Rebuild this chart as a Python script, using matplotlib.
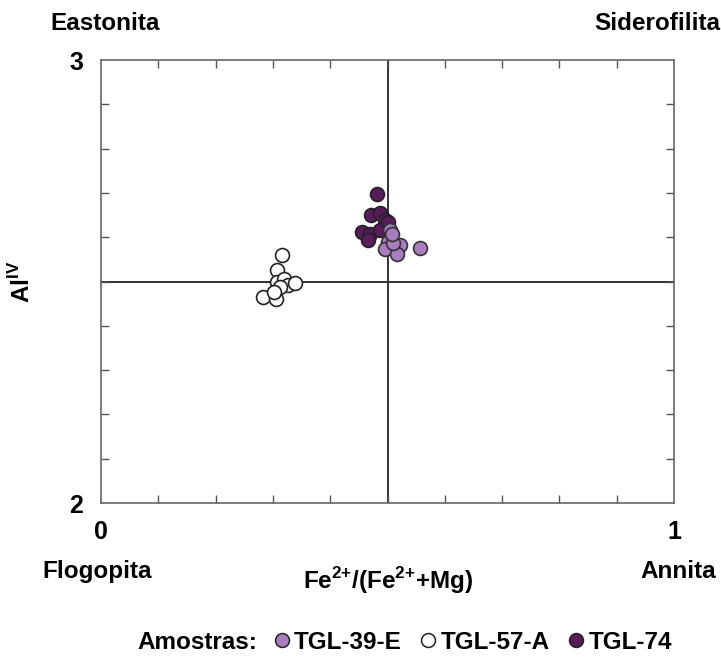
import matplotlib.pyplot as plt
from matplotlib.lines import Line2D

# Biotite classification (Fe/(Fe+Mg) vs Al IV)
plt.rcParams["font.family"] = ["Liberation Sans", "DejaVu Sans"]
plt.rcParams["font.weight"] = "bold"
plt.rcParams["mathtext.fontset"] = "custom"
plt.rcParams["mathtext.rm"] = "Liberation Sans:bold"
plt.rcParams["mathtext.bf"] = "Liberation Sans:bold"

# Sample data
x_39e = [0.504, 0.501, 0.521, 0.496, 0.516, 0.556, 0.510, 0.508]
y_39e = [2.616, 2.590, 2.582, 2.573, 2.562, 2.576, 2.587, 2.608]

x_57a = [0.316, 0.308, 0.307, 0.320, 0.326, 0.339, 0.312, 0.282, 0.305, 0.302]
y_57a = [2.560, 2.526, 2.500, 2.505, 2.492, 2.496, 2.488, 2.466, 2.460, 2.477]

x_74 = [0.481, 0.472, 0.487, 0.496, 0.455, 0.469, 0.466, 0.486, 0.501]
y_74 = [2.697, 2.650, 2.654, 2.640, 2.612, 2.607, 2.594, 2.616, 2.634]

labels = ["TGL-39-E", "TGL-57-A", "TGL-74"]
colors = ["#a97cc0", "#ffffff", "#5a1b5c"]

x_ticks = [0, 1]
y_ticks = [2, 3]

fig = plt.figure(figsize=(7.21, 6.61), dpi=100)
ax = fig.add_axes([0.140, 0.239, 0.795, 0.670])

# quadrant lines
ax.axvline(0.5, color="#333333", lw=1.4, zorder=1)
ax.axhline(2.5, color="#333333", lw=1.4, zorder=1)

ax.scatter(x_57a, y_57a, s=100, c=colors[1], edgecolors="#222222", linewidths=1.2, zorder=3)
ax.scatter(x_74, y_74, s=100, c=colors[2], edgecolors="#222222", linewidths=1.2, zorder=3)
ax.scatter(x_39e, y_39e, s=100, c=colors[0], edgecolors="#333333", linewidths=1.2, zorder=4)

ax.set_xlim(0, 1)
ax.set_ylim(2, 3)
ax.set_xticks(x_ticks)
ax.set_yticks(y_ticks)
ax.set_xticks([i / 10 for i in range(11)], minor=True)
ax.set_yticks([2 + i / 10 for i in range(11)], minor=True)
ax.tick_params(which="both", direction="in", top=True, right=True, color="#555555")
ax.tick_params(which="major", length=0, labelsize=18)
ax.tick_params(which="minor", length=6, width=1)
ax.tick_params(axis="x", pad=12)
ax.tick_params(axis="y", pad=13)
for s in ax.spines.values():
    s.set_color("#666666")
    s.set_linewidth(1.2)

# corner end-member names
fs = 17.5
fig.text(0.146, 0.964, "Eastonita", ha="center", va="center", fontsize=fs)
fig.text(0.999, 0.964, "Siderofilita", ha="right", va="center", fontsize=fs)
fig.text(0.135, 0.135, "Flogopita", ha="center", va="center", fontsize=fs)
fig.text(0.993, 0.135, "Annita", ha="right", va="center", fontsize=fs)

fig.text(0.538, 0.122, r"Fe$^{2{+}}$/(Fe$^{2{+}}$+Mg)", ha="center", va="center", fontsize=fs)
fig.text(0.030, 0.573, r"Al$^{\mathrm{IV}}$", ha="center", va="center", fontsize=fs, rotation=90)

# legend
fig.text(0.191, 0.028, "Amostras:", ha="left", va="center", fontsize=fs)
handles = [
    Line2D([], [], ls="none", marker="o", markersize=10, markerfacecolor=c,
           markeredgecolor="#222222", markeredgewidth=1.1)
    for c in colors
]
fig.legend(handles, labels, loc="center left", bbox_to_anchor=(0.362, 0.028), ncol=3,
           frameon=False, fontsize=fs, handletextpad=0.15, columnspacing=0.75,
           handlelength=0.7, borderpad=0)

fig.savefig("out.png", dpi=100)
